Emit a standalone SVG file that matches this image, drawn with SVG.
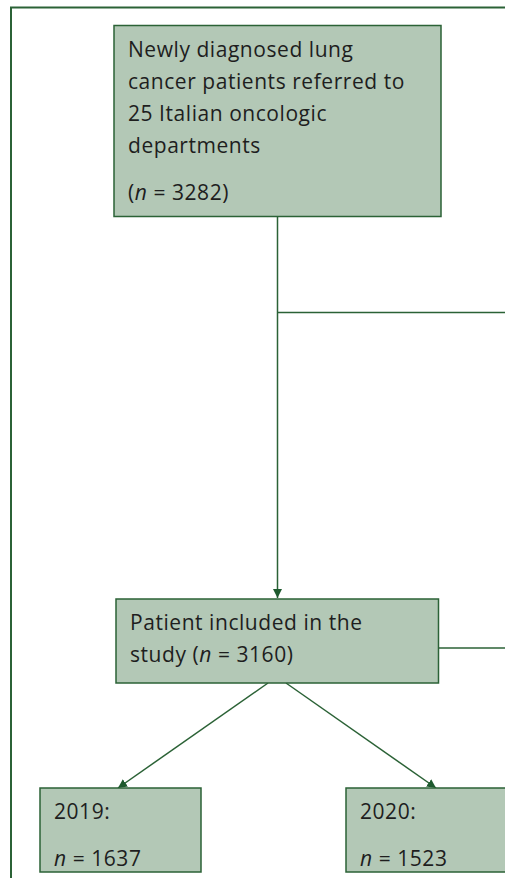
<svg xmlns="http://www.w3.org/2000/svg" width="505" height="878" viewBox="0 0 505 878">
<style>
.box{fill:#b3c8b6;stroke:#2b6236;stroke-width:1.5}
.t{font-family:"Open Sans","Noto Sans",sans-serif;font-size:21px;letter-spacing:0.55px;fill:#1e1e1e}
.c{fill:none;stroke:#2b6236;stroke-width:1.5}
</style>
<defs>
<marker id="arr" viewBox="0 0 10 10" refX="10" refY="5" markerWidth="9" markerHeight="9" markerUnits="userSpaceOnUse" orient="auto">
<path d="M0,0 L10,5 L0,10 Z" fill="#1e5a2e"/>
</marker>
</defs>
<rect x="11" y="7.5" width="510" height="890" fill="none" stroke="#2b6236" stroke-width="2"/>
<g id="connectors">
<line class="c" x1="277.5" y1="217" x2="277.5" y2="598" marker-end="url(#arr)"/>
<line class="c" x1="277.5" y1="312.5" x2="506" y2="312.5"/>
<line class="c" x1="439" y1="648" x2="506" y2="648"/>
<line class="c" x1="268" y1="683" x2="118" y2="788" marker-end="url(#arr)"/>
<line class="c" x1="286" y1="683" x2="436" y2="788" marker-end="url(#arr)"/>
</g>
<g id="n1">
<rect class="box" x="114" y="25.5" width="327" height="191"/>
<text class="t" x="128" y="57">Newly diagnosed lung</text>
<text class="t" x="128" y="89">cancer patients referred to</text>
<text class="t" x="128" y="121">25 Italian oncologic</text>
<text class="t" x="128" y="153">departments</text>
<text class="t" x="128" y="200">(<tspan font-style="italic">n</tspan> = 3282)</text>
</g>
<g id="n2">
<rect class="box" x="116" y="599" width="322.5" height="84"/>
<text class="t" x="130" y="630">Patient included in the</text>
<text class="t" x="130" y="662">study (<tspan font-style="italic">n</tspan> = 3160)</text>
</g>
<g id="n3">
<rect class="box" x="40" y="788" width="161" height="84"/>
<text class="t" x="54" y="819">2019:</text>
<text class="t" x="54" y="866"><tspan font-style="italic">n</tspan> = 1637</text>
</g>
<g id="n4">
<rect class="box" x="346" y="788" width="170" height="84"/>
<text class="t" x="360" y="819">2020:</text>
<text class="t" x="360" y="866"><tspan font-style="italic">n</tspan> = 1523</text>
</g>
</svg>
